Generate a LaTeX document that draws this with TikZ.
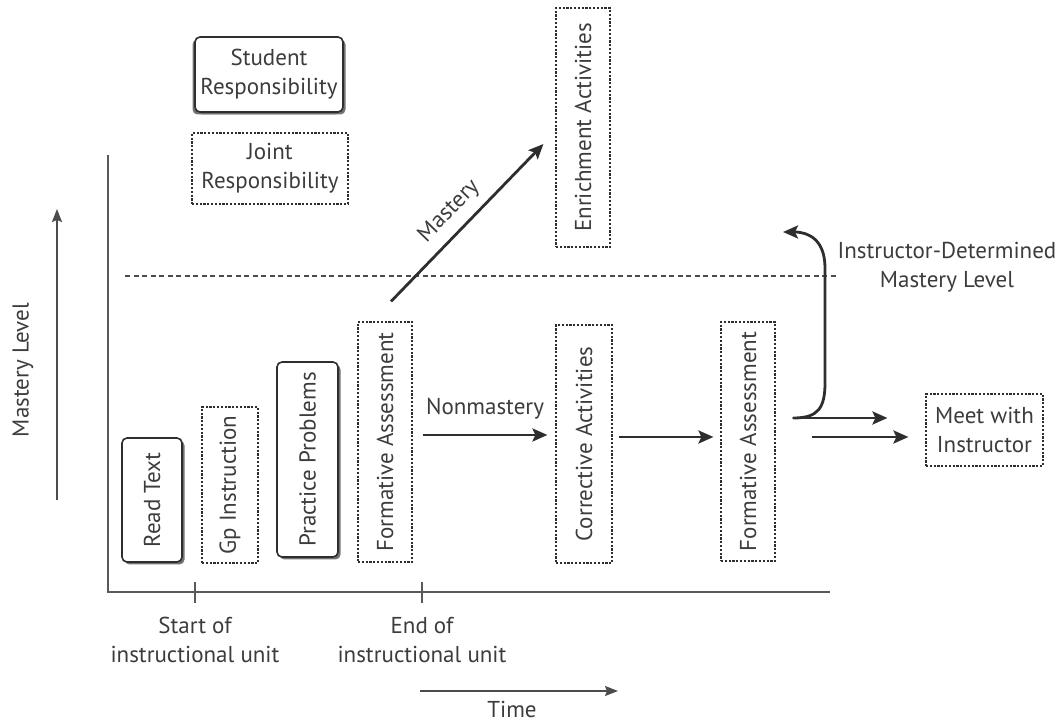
\documentclass[tikz,border=0pt]{standalone}
\usepackage{fontspec}
\setmainfont{PT Sans}
\usetikzlibrary{arrows.meta,shadows,calc}
\definecolor{ink}{HTML}{2E2E2E}
\definecolor{txt}{HTML}{3C3C3C}
\tikzset{
  lbl/.style={text=txt, font=\fontsize{23}{29}\selectfont, align=center, inner sep=0pt},
  solidbox/.style={draw=ink, line width=1.6pt, rounded corners=5pt, fill=white,
    drop shadow={shadow xshift=2.5pt, shadow yshift=-2.5pt, fill=black!55, opacity=1},
    text=txt, font=\fontsize{23}{29}\selectfont, align=center, inner sep=0pt},
  dotbox/.style={draw=ink, line width=1.1pt, dash pattern=on 2.2pt off 1.6pt,
    text=txt, font=\fontsize{23}{29}\selectfont, align=center, inner sep=0pt},
  arr/.style={draw=ink, line width=2.8pt, -{Stealth[length=15pt,width=13pt,inset=3pt]}},
  thinarr/.style={draw=black!70, line width=1.6pt, -{Stealth[length=13pt,width=10pt,inset=2pt]}},
  axis/.style={draw=black!65, line width=1.8pt},
}
\begin{document}
\begin{tikzpicture}[x=1pt,y=1pt]
\useasboundingbox (0,0) rectangle (1061,723);
% axes
\coordinate (ytop) at (108,568);
\coordinate (orig) at (108,131);
\coordinate (xend) at (830,131);
\draw[axis] (ytop) -- (orig) -- (xend);
\coordinate (t1a) at (195,141); \coordinate (t1b) at (195,120);
\coordinate (t2a) at (422,141); \coordinate (t2b) at (422,120);
\draw[axis] (t1a) -- (t1b);
\draw[axis] (t2a) -- (t2b);
\node[lbl] (start) at (195,83) {Start of\\instructional unit};
\node[lbl] (endu) at (422,83) {End of\\instructional unit};
% time arrow
\coordinate (ta) at (420,32); \coordinate (tb) at (618,32);
\draw[thinarr] (ta) -- (tb);
\node[lbl, anchor=base] (time) at (512,5) {Time};
% mastery level arrow
\coordinate (ma) at (57,223); \coordinate (mb) at (57,514);
\draw[thinarr] (ma) -- (mb);
\node[lbl, rotate=90] (mlev) at (23,353) {Mastery Level};
% legend
\node[solidbox, minimum width=148pt, minimum height=75pt,
  drop shadow={shadow xshift=-2.5pt, shadow yshift=-2.5pt, fill=black!55, opacity=1}] (stud) at (269,648.5) {Student\\Responsibility};
\node[dotbox, minimum width=156pt, minimum height=71pt] (joint) at (270,554.5) {Joint\\Responsibility};
% mastery level line
\coordinate (da) at (125,447); \coordinate (db) at (837,447);
\draw[draw=black!70, line width=1.1pt, dash pattern=on 5pt off 3.5pt] (da) -- (db);
% boxes
\node[solidbox, minimum width=60pt, minimum height=124pt] (read) at (152,223) {\rotatebox{90}{Read Text}};
\node[dotbox, minimum width=56pt, minimum height=156pt] (gp) at (230,238) {\rotatebox{90}{Gp Instruction}};
\node[solidbox, minimum width=61pt, minimum height=195pt] (pp) at (307.5,263.5) {\rotatebox{90}{Practice Problems}};
\node[dotbox, minimum width=54pt, minimum height=240pt] (fa1) at (385,281) {\rotatebox{90}{Formative Assessment}};
\node[dotbox, minimum width=56pt, minimum height=238pt] (ca) at (584,279) {\rotatebox{90}{Corrective Activities}};
\node[dotbox, minimum width=54pt, minimum height=239pt] (fa2) at (748,281.5) {\rotatebox{90}{Formative Assessment}};
\node[dotbox, minimum width=54pt, minimum height=239pt] (enr) at (583,595.5) {\rotatebox{90}{Enrichment Activities}};
\node[dotbox, minimum width=117pt, minimum height=72pt] (meet) at (984.5,293) {Meet with\\Instructor};
% arrows
\draw[arr] ($(fa1.north)+(6,20)$) -- node[lbl, sloped, above=9pt, pos=0.48] (mlab) {Mastery} ($(enr.west)+(-12,-16.5)$);
\draw[arr] ($(fa1.east)+(10,7)$) -- node[lbl, above=14pt] (nmlab) {Nonmastery} ($(ca.west)+(-8,9)$);
\draw[arr] ($(ca.east)+(6,7)$) -- ($(fa2.west)+(-7,4.5)$);
\coordinate (up) at (783,491);
\draw[arr] ($(fa2.east)+(18,23.5)$) -- ($(meet.west)+(-38,12)$);
\draw[arr, line cap=round] ($(fa2.east)+(18,23.5)$) .. controls (818,305) and (825,315) .. (825,340) -- (825,455) .. controls (825,482) and (810,491) .. (up);
\draw[arr] ($(meet.west)+(-113,-7)$) -- ($(meet.west)+(-17,-7)$);
\node[lbl] (idml) at (947,456) {Instructor-Determined\\Mastery Level};
\end{tikzpicture}
\end{document}
